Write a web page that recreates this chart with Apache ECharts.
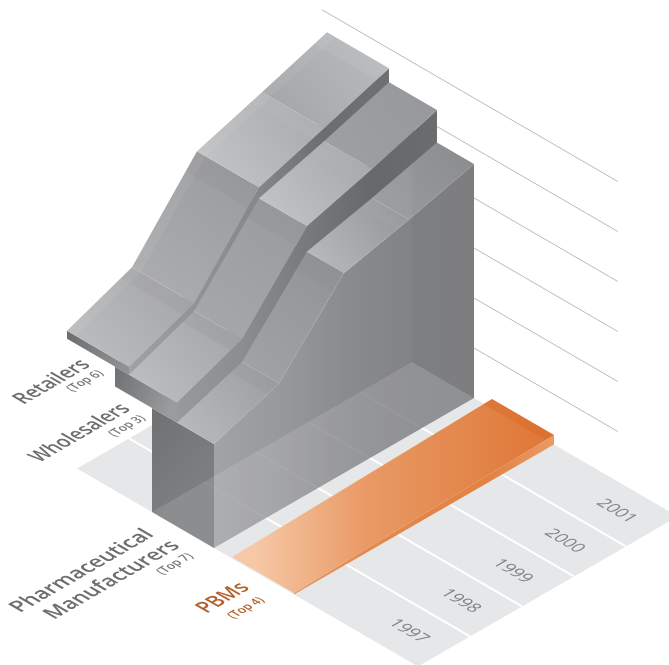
<!DOCTYPE html>
<html>
<head>
<meta charset="utf-8">
<style>html,body{margin:0;padding:0;background:#fff}#main{width:669px;height:665px}</style>
<script src="https://cdn.jsdelivr.net/npm/echarts@6/dist/echarts.min.js"></script>
</head>
<body>
<div id="main"></div>
<script>
// Layer heights by year, stacked bottom to top.
const years = ['1997', '1998', '1999', '2000', '2001'];
const manufacturers = [104, 127, 200, 216, 234];
const wholesalers = [20, 23, 25.5, 29, 32.5];
const retailers = [8, 8, 11, 13, 14];
const pbms = [1.5, 3.5, 5.5, 7.5, 9.5];
const heightTicks = [50, 100, 150, 200, 250, 300];

// Isometric basis: t runs along time, d runs across the companies, z is height.
const iso = (t, d, z) => [52 * t + 62 * d, -30 * t + 36 * d - (z || 0)];
const T_STEP = 1.25;
const T_END = 5;
const FLOOR = { back: -1.21, front: 4.29 };
const GRID = { back: -1.45, front: 3.32 };
const BANDS = {
  manufacturers: { back: 0, front: 1 },
  wholesalers: { back: -0.597, front: 0.403 },
  retailers: { back: -1.371, front: -0.371 },
  pbms: { back: 1.29, front: 2.29 }
};

const sum = (a, b) => a.map((v, i) => v + b[i]);
const wholesalerTop = sum(manufacturers, wholesalers);
const retailerTop = sum(wholesalerTop, retailers);

const poly = (pts, fill) => ({ type: 'polygon', shape: { points: pts }, style: { fill: fill, stroke: null } });
const diag = (a, b) => ({ type: 'linear', x: 0, y: 1, x2: 1, y2: 0, colorStops: [{ offset: 0, color: a }, { offset: 1, color: b }] });
function along(api, d, stops) {
  const a = api.coord(iso(0, d, 0)), b = api.coord(iso(T_END, d, 0));
  return { type: 'linear', global: true, x: a[0], y: 0, x2: b[0], y2: 0,
    colorStops: stops.map((c, i) => ({ offset: i / (stops.length - 1), color: c })) };
}

// One stacked slab: its end cap, front wall and the four sloped top panels.
function slabSeries(name, band, tops, bases, look) {
  return {
    type: 'custom', name: name, coordinateSystem: 'cartesian2d', silent: true, clip: false,
    data: years.map((y, i) => [i, tops[i]]),
    renderItem(params, api) {
      const i = params.dataIndex, kids = [];
      const P = (t, d, z) => api.coord(iso(t, d, z));
      const last = tops.length - 1;
      if (i === 0) {
        kids.push(poly([P(0, band.back, tops[0]), P(0, band.front, tops[0]), P(0, band.front, bases[0]), P(0, band.back, bases[0])],
          { type: 'linear', x: 0, y: 0, x2: 1, y2: 0.4, colorStops: [{ offset: 0, color: look.cap[0] }, { offset: 1, color: look.cap[1] }] }));
        const upper = tops.map((z, k) => P(k * T_STEP, band.front, z));
        const lower = bases.map((z, k) => P(k * T_STEP, band.front, z)).reverse();
        kids.push(poly(upper.concat(lower), along(api, band.front, look.wall)));
        if (look.glass) {
          // The floor and far wall of the translucent block show through.
          kids.push(poly([P(0, band.back, 0), P(0, band.front, 0), P(T_END, band.front, 0), P(T_END, band.back, 0)], 'rgba(255,255,255,0.12)'));
          for (let y = 1; y < years.length; y++) {
            kids.push({ type: 'line', shape: { x1: P(y, band.back, 0)[0], y1: P(y, band.back, 0)[1], x2: P(y, band.front, 0)[0], y2: P(y, band.front, 0)[1] },
              style: { stroke: 'rgba(255,255,255,0.05)', lineWidth: 2 } });
          }
        }
      }
      if (i < last) {
        const t0 = i * T_STEP, t1 = (i + 1) * T_STEP, z0 = tops[i], z1 = tops[i + 1];
        kids.push(poly([P(t0, band.back, z0), P(t1, band.back, z1), P(t1, band.front, z1), P(t0, band.front, z0)],
          diag(look.top[i][0], look.top[i][1])));
        // Narrow facet just below each ridge.
        const tb = t1 - 0.22, zb = z0 + (z1 - z0) * (tb - t0) / T_STEP;
        kids.push(poly([P(tb, band.back, zb), P(t1, band.back, z1), P(t1, band.front, z1), P(tb, band.front, zb)], look.facet[i]));
        if (look.rim) {
          kids.push(poly([P(t0, band.back, z0), P(t1, band.back, z1), P(t1, band.back + 0.14, z1), P(t0, band.back + 0.14, z0)], look.rim));
        }
      }
      if (i === last) {
        const z1 = tops[last], z0 = tops[last - 1], tb = T_END - 0.24, zb = z1 - (z1 - z0) * 0.24 / T_STEP;
        if (look.glass) {
          kids.push(poly([P(T_END, band.back, z1), P(T_END, band.front, z1), P(T_END, band.front, 0), P(T_END, band.back, 0)], 'rgba(40,40,45,0.03)'));
        } else if (look.rim) {
          kids.push(poly([P(tb, band.back, zb), P(T_END, band.back, z1), P(T_END, band.front, z1), P(tb, band.front, zb)], look.rim));
        }
      }
      return { type: 'group', children: kids };
    }
  };
}

// Text lying flat in the isometric plane: rotate by 45 degrees, then squash.
function flatText(P, text, font, fill, turn, narrow) {
  return {
    type: 'group', x: P[0], y: P[1], scaleX: 1.2247, scaleY: 0.7071,
    children: [{ type: 'text', rotation: turn, scaleX: narrow,
      style: { text: text, x: 0, y: 0, font: font, fill: fill, align: 'center', verticalAlign: 'middle' } }]
  };
}

const sideLabels = [
  { text: 'Retailers', t: 1.195, d: -2.615, size: 22, narrow: 0.84, fill: '#6d6e71' },
  { text: '(Top 6)', t: 1.53, d: -2.364, size: 13, narrow: 0.86, fill: '#77787b' },
  { text: 'Wholesalers', t: 0.618, d: -1.68, size: 22, narrow: 0.82, fill: '#6d6e71' },
  { text: '(Top 3)', t: 1.188, d: -1.4, size: 13, narrow: 0.86, fill: '#77787b' },
  { text: 'Pharmaceutical', t: -1.655, d: 0.259, size: 22, narrow: 0.94, fill: '#6d6e71' },
  { text: 'Manufacturers', t: -1.515, d: 0.626, size: 22, narrow: 0.93, fill: '#6d6e71' },
  { text: '(Top 7)', t: -0.642, d: 0.909, size: 13, narrow: 0.86, fill: '#77787b' },
  { text: 'PBMs', t: -0.744, d: 1.769, size: 22, narrow: 0.86, fill: '#b5602a' },
  { text: '(Top 4)', t: -0.688, d: 2.093, size: 13, narrow: 0.86, fill: '#b5602a' }
];

const series = [
  {
    type: 'custom', name: 'floor', coordinateSystem: 'cartesian2d', silent: true, clip: false,
    data: years.map((y, i) => [i, 0]),
    renderItem(params, api) {
      const i = params.dataIndex, P = (t, d) => api.coord(iso(t, d, 0));
      const kids = [poly([P(i, FLOOR.back), P(i + 1, FLOOR.back), P(i + 1, FLOOR.front), P(i, FLOOR.front)], '#e6e7e8')];
      if (i > 0) {
        const a = P(i, FLOOR.back), b = P(i, FLOOR.front);
        kids.push({ type: 'line', shape: { x1: a[0], y1: a[1], x2: b[0], y2: b[1] }, style: { stroke: '#ffffff', lineWidth: 2 } });
      }
      return { type: 'group', children: kids };
    }
  },
  {
    type: 'custom', name: 'height grid', coordinateSystem: 'cartesian2d', silent: true, clip: false,
    data: heightTicks.map((v, i) => [i, v]),
    renderItem(params, api) {
      const a = api.coord(iso(T_END, GRID.back, api.value(1))), b = api.coord(iso(T_END, GRID.front, api.value(1)));
      return { type: 'line', shape: { x1: a[0], y1: a[1], x2: b[0], y2: b[1] }, style: { stroke: '#b9bbbd', lineWidth: 1 } };
    }
  },
  slabSeries('Pharmaceutical Manufacturers', BANDS.manufacturers, manufacturers, manufacturers.map(() => 0), {
    glass: true,
    cap: ['#6f7072', '#7d7e80'],
    wall: ['#a2a3a5', '#98999b', '#8a8b8d', '#828385', '#808183'],
    top: [['#c0c1c3', '#98999b'], ['#a4a5a7', '#909193'], ['#c2c3c5', '#8f9092'], ['#a2a3a5', '#8d8e90']],
    facet: ['rgba(0,0,0,0.025)', 'rgba(0,0,0,0.02)', 'rgba(255,255,255,0.03)', 'rgba(0,0,0,0)']
  }),
  slabSeries('Wholesalers', BANDS.wholesalers, wholesalerTop, manufacturers, {
    cap: ['#6f7072', '#9a9b9d'],
    wall: ['#98999b', '#8c8d8f', '#78797b', '#67686a', '#6b6c6e'],
    top: [['#c2c3c5', '#a0a1a3'], ['#a8a9ab', '#98999b'], ['#c8c9cb', '#a2a3a5'], ['#a0a1a3', '#96979a']],
    facet: ['rgba(0,0,0,0.03)', 'rgba(0,0,0,0.025)', 'rgba(255,255,255,0.03)', 'rgba(0,0,0,0)']
  }),
  slabSeries('Retailers', BANDS.retailers, retailerTop, wholesalerTop, {
    cap: ['#6c6d6f', '#909193'],
    wall: ['#a0a1a3', '#929395', '#858688', '#6c6d6f', '#6f7072'],
    top: [['#bfc0c2', '#a2a3a5'], ['#aeafb1', '#98999b'], ['#c6c7c9', '#a6a7a9'], ['#a2a3a5', '#bcbdbf']],
    facet: ['rgba(0,0,0,0.025)', 'rgba(0,0,0,0.025)', 'rgba(255,255,255,0.04)', 'rgba(0,0,0,0)'],
    rim: 'rgba(255,255,255,0.06)'
  }),
  {
    type: 'custom', name: 'PBMs', coordinateSystem: 'cartesian2d', silent: true, clip: false,
    data: [[0, pbms[0]]],
    renderItem(params, api) {
      const band = BANDS.pbms, P = (t, d, z) => api.coord(iso(t, d, z));
      const last = pbms.length - 1, zEnd = pbms[last];
      const backEdge = pbms.map((z, k) => P(k * T_STEP, band.back, z));
      const frontEdge = pbms.map((z, k) => P(k * T_STEP, band.front, z));
      const base = pbms.map((z, k) => P(k * T_STEP, band.front, 0));
      const a = P(0, band.front, 0), b = P(T_END, band.back, 0);
      const faceFill = { type: 'linear', global: true, x: a[0] - 40, y: 0, x2: b[0] + 40, y2: 0,
        colorStops: [{ offset: 0, color: '#f6c8a6' }, { offset: 0.4, color: '#e99a66' }, { offset: 1, color: '#df7a3a' }] };
      const sideFill = along(api, band.front, ['#e8935c', '#e58a4f', '#e38446', '#e28242', '#ea9a65']);
      const endRim = T_END - 0.16, zRim = zEnd - 0.3;
      return { type: 'group', children: [
        poly(frontEdge.concat(base.slice().reverse()), sideFill),
        poly(backEdge.concat(frontEdge.slice().reverse()), faceFill),
        poly([P(endRim, band.back, zRim), P(T_END, band.back, zEnd), P(T_END, band.front, zEnd), P(endRim, band.front, zRim)], 'rgba(215,100,35,0.35)')
      ] };
    }
  },
  {
    type: 'custom', name: 'year labels', coordinateSystem: 'cartesian2d', silent: true, clip: false,
    data: years.map((y, i) => [i, 0]),
    renderItem(params, api) {
      const i = params.dataIndex;
      return flatText(api.coord(iso(i + 0.5, 3.72, 0)), years[i], '17px "Open Sans"', '#808285', -Math.PI / 4, 1);
    }
  },
  {
    type: 'custom', name: 'company labels', coordinateSystem: 'cartesian2d', silent: true, clip: false,
    data: sideLabels.map((l, i) => [i, 0]),
    renderItem(params, api) {
      const l = sideLabels[params.dataIndex];
      return flatText(api.coord(iso(l.t, l.d, 0)), l.text, '600 ' + l.size + 'px "Open Sans"', l.fill, Math.PI / 4, l.narrow);
    }
  }
];

const chart = echarts.init(document.getElementById('main'), null, { renderer: 'canvas' });
chart.setOption({
  animation: false,
  backgroundColor: '#ffffff',
  grid: { left: 0, right: 0, top: 0, bottom: 0 },
  xAxis: { type: 'value', min: -152, max: 517, show: false },
  yAxis: { type: 'value', min: -512, max: 153, inverse: true, show: false },
  tooltip: { show: false },
  series: series
});
</script>
</body>
</html>
